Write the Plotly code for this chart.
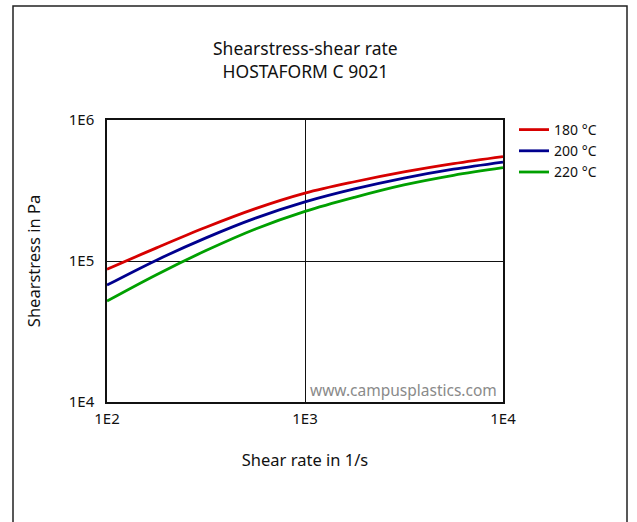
import plotly.graph_objects as go

shear_rate = [100, 177.8, 316.2, 562.3, 1000, 1778, 3162, 5623, 10000]
stress_180 = [87300, 123900, 173400, 235000, 302700, 364800, 428500, 490900, 550800]
stress_200 = [67450, 101400, 145900, 201400, 262400, 324300, 387300, 447700, 503500]
stress_220 = [52000, 80000, 118600, 168700, 224900, 283100, 346700, 405500, 459200]
series_names = ["180 °C", "200 °C", "220 °C"]
x_ticks = [100, 1000, 10000]
x_ticktext = ["1E2", "1E3", "1E4"]
y_ticks = [1e4, 1e5, 1e6]
y_ticktext = ["1E4", "1E5", "1E6"]

FONT = "Noto Sans"
colors = ["#d70000", "#00008e", "#00a000"]

fig = go.Figure()
for name, ys, c in zip(series_names, [stress_180, stress_200, stress_220], colors):
    fig.add_trace(go.Scatter(x=shear_rate, y=ys, mode="lines", name=name,
                             line=dict(color=c, width=2.8, shape="spline", smoothing=1.0)))

L, R, T, B = 107, 134, 120, 120
W, H = 637, 522
pw, ph = W - L - R, H - T - B

def px(xp):
    return (xp - L) / pw

def py(yp):
    return (H - B - yp) / ph

fig.update_layout(
    width=W, height=H,
    margin=dict(l=L, r=R, t=T, b=B),
    paper_bgcolor="white", plot_bgcolor="white",
    font=dict(family=FONT, size=15, color="#111"),
    showlegend=True,
    legend=dict(x=px(514), y=py(114), xanchor="left", yanchor="top",
                font=dict(family=FONT, size=14, color="#111"),
                tracegroupgap=0, itemwidth=30, bgcolor="rgba(0,0,0,0)"),
    xaxis=dict(type="log", range=[2, 4], tickvals=x_ticks, ticktext=x_ticktext,
               showgrid=True, gridcolor="#111", gridwidth=1,
               showline=True, linecolor="#111", linewidth=1.5, mirror=True,
               ticks="", zeroline=False, ticklabelstandoff=2,
               title=dict(text="Shear rate in 1/s", font=dict(size=16.5), standoff=28)),
    yaxis=dict(type="log", range=[4, 6], tickvals=y_ticks, ticktext=y_ticktext,
               showgrid=True, gridcolor="#111", gridwidth=1,
               showline=True, linecolor="#111", linewidth=1.5, mirror=True,
               ticks="", zeroline=False, ticklabelstandoff=8,
               title=dict(text="Shearstress in Pa", font=dict(size=16.5), standoff=24)),
)

fig.add_annotation(text="Shearstress-shear rate<br>HOSTAFORM C 9021", xref="paper", yref="paper",
                   x=0.5, y=py(60), xanchor="center", yanchor="middle", showarrow=False,
                   font=dict(family=FONT, size=17.5, color="#111"))
fig.add_annotation(text="www.campusplastics.com", xref="paper", yref="paper",
                   x=px(499), y=py(390), xanchor="right", yanchor="middle", showarrow=False,
                   font=dict(family=FONT, size=15.5, color="#8a8a8a"))

fig.add_shape(type="rect", xref="paper", yref="paper",
              x0=px(13), x1=px(627), y0=py(560), y1=py(6),
              line=dict(color="#222", width=1.5), fillcolor="rgba(0,0,0,0)", layer="below")

fig.write_html("out.html")
